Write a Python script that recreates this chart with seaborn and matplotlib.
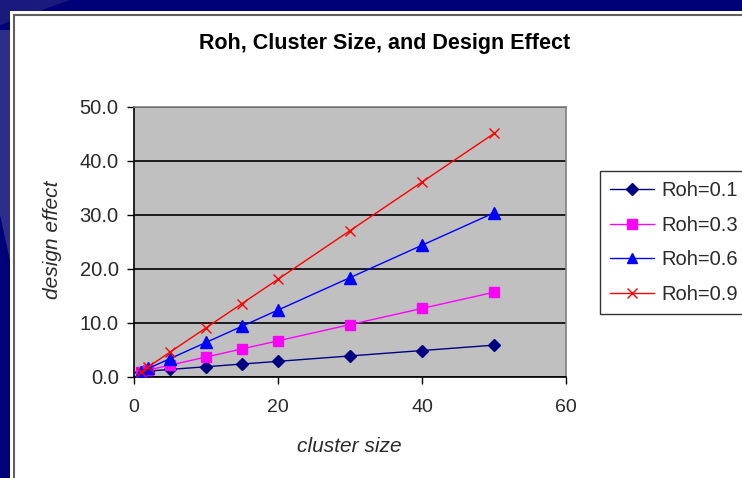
import matplotlib
matplotlib.use("Agg")
import matplotlib.pyplot as plt
import seaborn as sns
import pandas as pd
from matplotlib.patches import Rectangle, Polygon
from matplotlib.lines import Line2D

cluster_size = [1, 2, 5, 10, 15, 20, 30, 40, 50]
roh_01 = [1.0, 1.1, 1.4, 1.9, 2.4, 2.9, 3.9, 4.9, 5.9]
roh_03 = [1.0, 1.3, 2.2, 3.7, 5.2, 6.7, 9.7, 12.7, 15.7]
roh_06 = [1.0, 1.6, 3.4, 6.4, 9.4, 12.4, 18.4, 24.4, 30.4]
roh_09 = [1.0, 1.9, 4.6, 9.1, 13.6, 18.1, 27.1, 36.1, 45.1]
series_names = ["Roh=0.1", "Roh=0.3", "Roh=0.6", "Roh=0.9"]
x_ticks = [0, 20, 40, 60]
y_ticks = [0, 10, 20, 30, 40, 50]

rows = []
for name, vals in zip(series_names, [roh_01, roh_03, roh_06, roh_09]):
    for c, v in zip(cluster_size, vals):
        rows.append({"cluster size": c, "design effect": v, "series": name})
df = pd.DataFrame(rows)

sns.set_theme(style="white")
plt.rcParams["font.family"] = ["Liberation Sans", "DejaVu Sans"]

W, H = 742, 478
fig = plt.figure(figsize=(W / 100, H / 100), dpi=100)
fig.patch.set_facecolor("#000078")

# background layer in pixel coordinates
bg = fig.add_axes([0, 0, 1, 1], zorder=-10)
bg.set_xlim(0, W)
bg.set_ylim(H, 0)
bg.axis("off")
bg.add_patch(Polygon([(0, 0), (70, 0), (0, 25)], closed=True, facecolor="#1a1a7e", edgecolor="none"))
bg.add_patch(Polygon([(0, 30), (10, 30), (10, 260), (0, 215)], closed=True,
                     facecolor="#2c2c8c", edgecolor="none"))
bg.add_patch(Rectangle((10, 11), W, H, facecolor="white", edgecolor="none"))
bg.add_patch(Rectangle((14, 15), W + 10, H + 10, facecolor="white", edgecolor="#606060", linewidth=1.5))

ax = fig.add_axes([134 / W, (H - 377) / H, 432 / W, 270 / H])
ax.set_facecolor("#C0C0C0")

palette = {"Roh=0.1": "#000080", "Roh=0.3": "#FF00FF", "Roh=0.6": "#0000FF", "Roh=0.9": "#FF0000"}
markers = {"Roh=0.1": "D", "Roh=0.3": "s", "Roh=0.6": "^", "Roh=0.9": "x"}
msizes = {"Roh=0.1": 6.5, "Roh=0.3": 7.5, "Roh=0.6": 8.5, "Roh=0.9": 7.5}

for name in series_names:
    sub = df[df["series"] == name]
    sns.lineplot(data=sub, x="cluster size", y="design effect", color=palette[name],
                 marker=markers[name], markersize=msizes[name], markeredgewidth=1.0,
                 markeredgecolor=palette[name], markerfacecolor=palette[name],
                 linewidth=1.0, ax=ax, legend=False, zorder=3)

ax.set_xlim(0, 60)
ax.set_ylim(0, 50)
ax.set_xticks(x_ticks)
ax.set_yticks(y_ticks)
ax.set_xticklabels([str(t) for t in x_ticks], fontsize=14, color="#2a2a2a")
ax.set_yticklabels([f"{t:.1f}" for t in y_ticks], fontsize=14.5, color="#2a2a2a")
ax.yaxis.grid(True, color="black", linewidth=1.2)
ax.set_axisbelow(True)
ax.tick_params(axis="both", direction="out", length=5, width=1, color="black",
               left=True, bottom=True)
ax.tick_params(axis="x", pad=11)
ax.tick_params(axis="y", pad=6)
for s in ["left", "bottom"]:
    ax.spines[s].set_color("black")
    ax.spines[s].set_linewidth(1.2)
for s in ["top", "right"]:
    ax.spines[s].set_color("#808080")
    ax.spines[s].set_linewidth(1.2)

ax.set_xlabel("")
ax.set_ylabel("")
fig.text(349 / W, 1 - 446 / H, "cluster size", ha="center", va="center",
         fontsize=15, fontstyle="italic", color="#2a2a2a")
fig.text(52 / W, 1 - 240 / H, "design effect", ha="center", va="center", rotation=90,
         fontsize=15, fontstyle="italic", color="#2a2a2a")

fig.text(385 / W, 1 - 43 / H, "Roh, Cluster Size, and Design Effect", ha="center", va="center",
         fontsize=15.5, fontweight="bold", color="black")

handles = [Line2D([], [], color=palette[n], marker=markers[n], markersize=6.5, linewidth=1.0,
                  markerfacecolor=palette[n], markeredgecolor=palette[n]) for n in series_names]
leg = fig.legend(handles, series_names, loc="upper left", bbox_to_anchor=(600 / W, 1 - 171 / H),
                 frameon=True, fontsize=14.5, handlelength=2.2, handletextpad=0.35,
                 labelspacing=0.78, borderpad=0.5, borderaxespad=0, fancybox=False)
leg.get_frame().set_edgecolor("black")
leg.get_frame().set_linewidth(1.0)
for t in leg.get_texts():
    t.set_color("#2a2a2a")

fig.savefig("out.png", dpi=100, facecolor=fig.get_facecolor())
